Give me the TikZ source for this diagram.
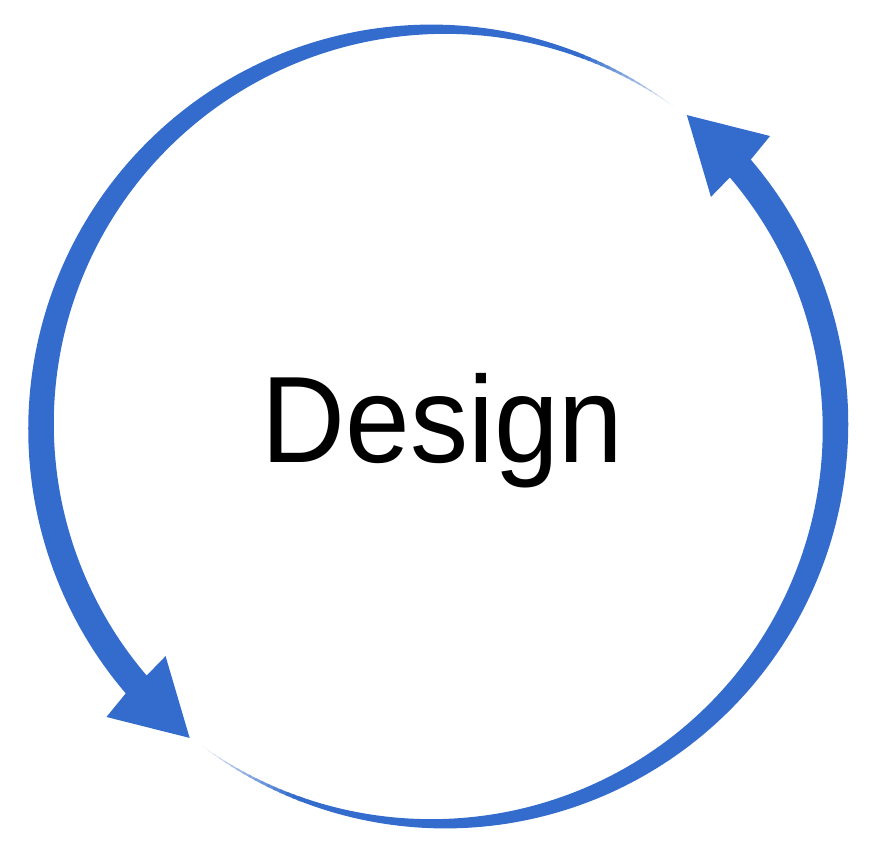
\documentclass[tikz,border=0pt]{standalone}
\usepackage{fontspec}
\setmainfont{Liberation Sans}
\definecolor{cycblue}{RGB}{51,108,204}
\tikzset{
  declare function={wd(\a)=27.5*sin((\a-233.5)*90/167);},
  cyclefill/.style={fill=cycblue, draw=none},
  labeltext/.style={anchor=base, inner sep=0pt, font=\fontsize{123}{130}\selectfont}
}
\newcommand{\cycarrowshape}{%
  \foreach \k in {0,...,15}{%
    \pgfmathsetmacro\aa{233.5+\k}%
    \pgfmathsetmacro\ab{233.5+\k+1.4}%
    \pgfmathtruncatemacro\pp{min(100,12+6*\k)}%
    \fill[cycblue!\pp!white] plot[domain=\aa:\ab, samples=4] (\x:{397.25+0.5*wd(\x)})
      -- plot[domain=\ab:\aa, samples=4] (\x:{397.25-0.5*wd(\x)}) -- cycle;
  }%
  \fill[cyclefill] plot[domain=249.3:400.5, samples=140] (\x:{397.25+0.5*wd(\x)})
    -- (401.2:441) -- (411.4:398.5) -- (400.1:356.5)
    -- plot[domain=400.5:249.3, samples=140] (\x:{397.25-0.5*wd(\x)}) -- cycle;
}
\begin{document}
\begin{tikzpicture}[x=1pt,y=1pt]
\useasboundingbox (0,0) rectangle (875,855);
\coordinate (c) at (438.25,428.5);
\begin{scope}[shift={(c)}]
  \cycarrowshape
\end{scope}
\begin{scope}[shift={(c)}, rotate=180]
  \cycarrowshape
\end{scope}
\node[labeltext] (lbl) at (442.5,392) {\scalebox{0.945}[1]{Design}};
\end{tikzpicture}
\end{document}
